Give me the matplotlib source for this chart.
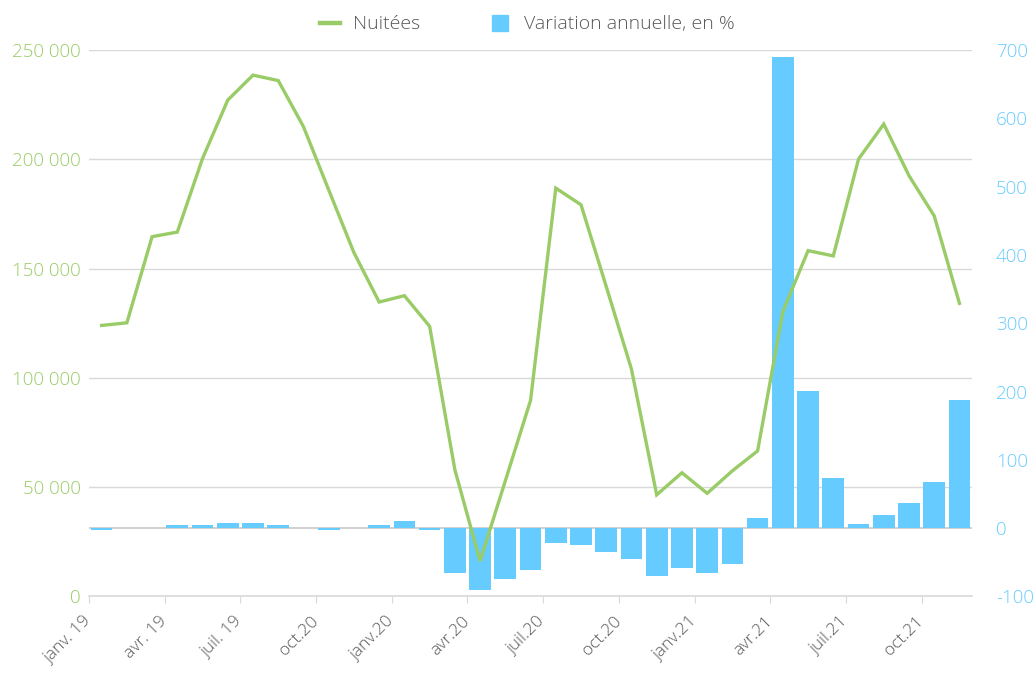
import matplotlib
matplotlib.use("Agg")
import matplotlib.pyplot as plt
from matplotlib.lines import Line2D
from matplotlib.ticker import FuncFormatter
from matplotlib.transforms import ScaledTranslation
import numpy as np

plt.rcParams["font.family"] = ["Open Sans", "DejaVu Sans"]
plt.rcParams["font.weight"] = "light"

# monthly data, janv.19 -> nov.21
nuitees = [124000, 125200, 164600, 166700, 200400, 227100, 238500, 236000, 214900,
           186000, 157300, 134700, 137600, 123600, 58000, 16200, 52900, 89700,
           186800, 179200, 141800, 104000, 46500, 56600, 47200, 57500, 66600,
           130300, 158200, 155800, 200100, 216100, 192500, 174100, 134100]
variation = [-2, 0, 0, 4, 4, 8, 8, 4, 0, -2, 0, 5, 11, -2, -65, -90, -74, -61,
             -22, -24, -35, -45, -70, -58, -65, -53, 15, 690, 201, 74, 6, 20, 37,
             67, 188]
tick_labels = ["janv. 19", "avr. 19", "juil. 19", "oct.20", "janv.20", "avr.20",
               "juil.20", "oct.20", "janv.21", "avr.21", "juil.21", "oct.21"]

GREEN, BLUE, GREY = "#99CC66", "#66CCFF", "#595959"
x = np.arange(len(nuitees))

fig = plt.figure(figsize=(10.34, 6.8), dpi=100)
ax = fig.add_axes([0.0861, 0.1228, 0.854, 0.8037])
ax2 = ax.twinx()   # bars, right scale
ax3 = ax.twinx()   # line, drawn on top, left scale
ax.set_zorder(1); ax2.set_zorder(2); ax3.set_zorder(3)
ax2.patch.set_visible(False); ax3.patch.set_visible(False)

ax.set_ylim(0, 250000)
ax.set_yticks(np.arange(0, 250001, 50000))
ax.yaxis.set_major_formatter(FuncFormatter(lambda v, p: f"{int(v):,}".replace(",", " ")))
ax.grid(axis="y", color="#d9d9d9", lw=1.0)
ax.set_axisbelow(True)

ax2.bar(x, variation, width=0.86, color=BLUE, zorder=2)
ax2.axhline(0, color="#c8c8c8", lw=1.2, zorder=1)
ax2.set_ylim(-100, 700)
ax2.set_yticks(np.arange(-100, 701, 100))
ax2.yaxis.set_major_formatter(FuncFormatter(lambda v, p: f"{int(v)}"))

ax3.plot(x, nuitees, color=GREEN, lw=2.4, solid_joinstyle="miter")
ax3.set_ylim(ax.get_ylim())
ax3.yaxis.set_visible(False)

ax.set_xlim(-0.5, len(nuitees) - 0.5)
ax.set_xticks(np.arange(-0.5, len(nuitees) - 1, 3))
ax.set_xticklabels(tick_labels, rotation=45, ha="right", va="center",
                   rotation_mode="anchor", color=GREY, fontsize=12.5)
shift = ScaledTranslation(6 / 100, 0, fig.dpi_scale_trans)
for lab in ax.get_xticklabels():
    lab.set_transform(lab.get_transform() + shift)
ax.tick_params(axis="x", length=5, color="#d9d9d9", pad=11)
ax.tick_params(axis="y", length=0, labelcolor=GREEN, labelsize=13.5, pad=6)
ax2.tick_params(axis="y", length=0, labelcolor=BLUE, labelsize=13.5, pad=17)

for a in (ax, ax2, ax3):
    for s in ["top", "left", "right", "bottom"]:
        a.spines[s].set_visible(False)
ax.spines["bottom"].set_visible(True)
ax.spines["bottom"].set_color("#d9d9d9")
ax.spines["bottom"].set_linewidth(1.2)

handles = [Line2D([], [], color=GREEN, lw=3.2),
           Line2D([], [], color=BLUE, marker="s", linestyle="none", markersize=11)]
fig.legend(handles, ["Nuitées", "Variation annuelle, en %"], loc="upper center",
           bbox_to_anchor=(0.51, 1.003), ncol=2, frameon=False, fontsize=14,
           labelcolor=GREY, handlelength=1.0, columnspacing=3.6, handletextpad=0.7)

fig.savefig("out.png", dpi=100)
